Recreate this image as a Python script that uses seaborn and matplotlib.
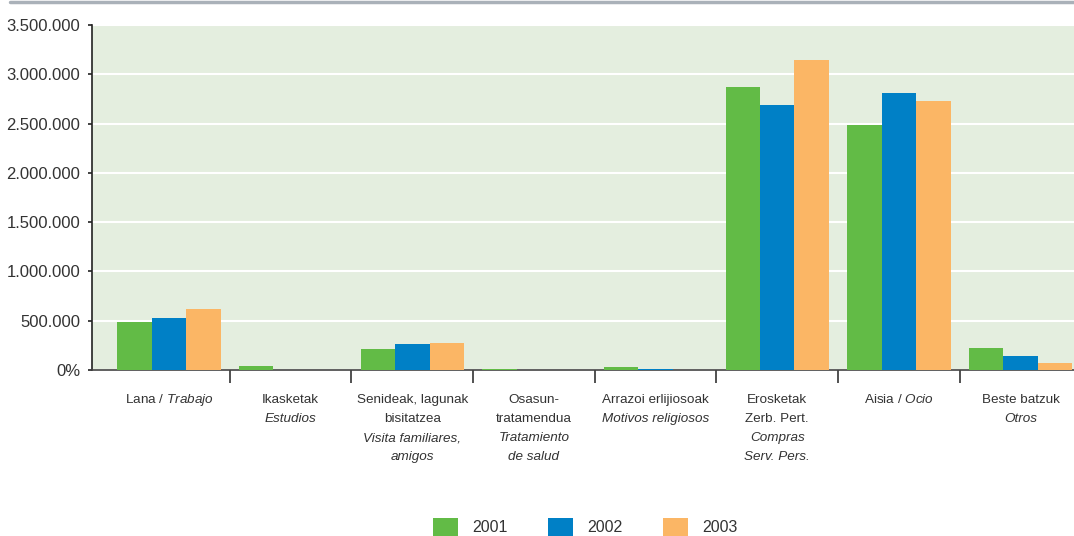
import matplotlib
matplotlib.use("Agg")
import matplotlib.pyplot as plt
from matplotlib.patches import Patch
from matplotlib.lines import Line2D
import pandas as pd
import seaborn as sns

# ----------------------------------------------------------
# Data
# ----------------------------------------------------------

categories = ["Lana", "Ikasketak", "Senideak", "Osasun", "Arrazoi",
              "Erosketak", "Aisia", "Beste"]
years = ["2001", "2002", "2003"]

v2001 = [490000, 40000, 213000, 6000, 30000, 2870000, 2490000, 223000]
v2002 = [527000, 5000, 264000, 5000, 6000, 2690000, 2810000, 142000]
v2003 = [619000, 4000, 274000, 4000, 5000, 3140000, 2730000, 71000]

# label lines: (text, italic?) ; mathtext used for mixed lines
tick_labels = [
    [(r"Lana / $\mathit{Trabajo}$", False)],
    [("Ikasketak", False), ("Estudios", True)],
    [("Senideak, lagunak", False), ("bisitatzea", False),
     ("Visita familiares,", True), ("amigos", True)],
    [("Osasun-", False), ("tratamendua", False),
     ("Tratamiento", True), ("de salud", True)],
    [("Arrazoi erlijiosoak", False), ("Motivos religiosos", True)],
    [("Erosketak", False), ("Zerb. Pert.", False),
     ("Compras", True), ("Serv. Pers.", True)],
    [(r"Aisia / $\mathit{Ocio}$", False)],
    [("Beste batzuk", False), ("Otros", True)],
]

yticks = [0, 500000, 1000000, 1500000, 2000000, 2500000, 3000000, 3500000]
ytick_labels = ["0%", "500.000", "1.000.000", "1.500.000", "2.000.000",
                "2.500.000", "3.000.000", "3.500.000"]

colors = ["#62bb46", "#0080c6", "#fbb665"]

df = pd.DataFrame({
    "cat": categories * 3,
    "year": [y for y in years for _ in categories],
    "value": v2001 + v2002 + v2003,
})

# ----------------------------------------------------------
# Style
# ----------------------------------------------------------

sns.set_style("white")
font = "Liberation Sans"
plt.rcParams["font.family"] = [font, "DejaVu Sans"]
plt.rcParams["mathtext.fontset"] = "custom"
plt.rcParams["mathtext.rm"] = font
plt.rcParams["mathtext.it"] = font + ":italic"

fig = plt.figure(figsize=(10.74, 5.36), dpi=100)
ax = fig.add_axes([92 / 1074, 1 - 370 / 536, 1 - 92 / 1074, 345 / 536])

sns.barplot(data=df, x="cat", y="value", hue="year", hue_order=years,
            palette=colors, width=0.85, saturation=1, errorbar=None,
            linewidth=0, ax=ax, legend=False, zorder=3)

ax.set_facecolor("#e4eedf")
ax.set_xlim(-0.633, 7.44)
ax.set_ylim(0, 3500000)
ax.set_yticks(yticks)
ax.set_yticklabels(ytick_labels, fontsize=12, color="#333333")
ax.yaxis.grid(True, color="white", linewidth=1.5, zorder=0)
ax.set_axisbelow(True)
ax.tick_params(axis="y", direction="out", length=3, width=1.2,
               color="#222222", pad=5.5, left=True)

# separator ticks between groups
ax.set_xticks([i + 0.5 for i in range(7)])
ax.set_xticklabels([])
ax.tick_params(axis="x", direction="out", length=9.5, width=1.2,
               color="#333333", bottom=True)
ax.set_xlabel("")
ax.set_ylabel("")

for s in ["top", "right"]:
    ax.spines[s].set_visible(False)
ax.spines["left"].set_color("#222222")
ax.spines["left"].set_linewidth(1.2)
ax.spines["bottom"].set_color("#444444")
ax.spines["bottom"].set_linewidth(1.2)

# category labels
for i, lines in enumerate(tick_labels):
    for j, (txt, it) in enumerate(lines):
        ax.annotate(txt, xy=(i, 0), xycoords=("data", "axes fraction"),
                    xytext=(0, -24 - j * 13.7), textcoords="offset points",
                    ha="center", va="baseline", fontsize=9.7,
                    color="#333333", style="italic" if it else "normal")

# top grey rule
fig.add_artist(Line2D([10 / 1074, 1], [1 - 1.5 / 536, 1 - 1.5 / 536],
                      color="#aab1b9", linewidth=2.5))

handles = [Patch(facecolor=c, edgecolor="none") for c in colors]
fig.legend(handles, years, loc="center", bbox_to_anchor=(0.545, 1 - 527 / 536),
           ncol=3, frameon=False, fontsize=11.5, handlelength=1.57,
           handleheight=1.3, handletextpad=0.85, columnspacing=2.57,
           borderpad=0, labelcolor="#333333")

fig.savefig("out.png", dpi=100)
